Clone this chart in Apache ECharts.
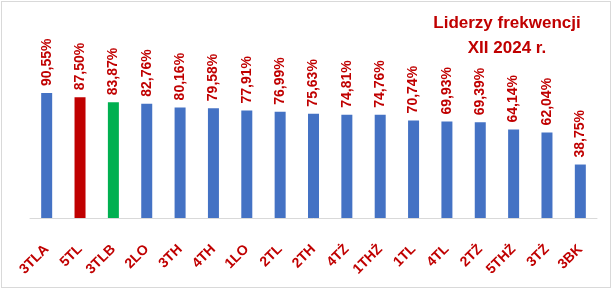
<!DOCTYPE html>
<html><head><meta charset="utf-8">
<script src="https://cdn.jsdelivr.net/npm/echarts@6/dist/echarts.min.js"></script>
<style>
html,body{margin:0;padding:0;background:#fff;}
#frame{position:absolute;left:1px;top:1px;width:608px;height:285px;border:1px solid #D9D9D9;}
#c{position:absolute;left:0;top:0;width:612px;height:289px;}
</style></head>
<body>
<div id="frame"></div>
<div id="c"></div>
<script>
const categories = ['3TLA','5TL','3TLB','2LO','3TH','4TH','1LO','2TL','2TH','4TŻ','1THŻ','1TL','4TL','2TŻ','5THŻ','3TŻ','3BK'];
const values = [90.55,87.50,83.87,82.76,80.16,79.58,77.91,76.99,75.63,74.81,74.76,70.74,69.93,69.39,64.14,62.04,38.75];
const barColors = ['#4472C4','#C00000','#00B050','#4472C4','#4472C4','#4472C4','#4472C4','#4472C4','#4472C4','#4472C4','#4472C4','#4472C4','#4472C4','#4472C4','#4472C4','#4472C4','#4472C4'];
const titleLines = ['Liderzy frekwencji','XII 2024 r.'];

const chart = echarts.init(document.getElementById('c'), null, {renderer:'canvas'});
chart.setOption({
  animation:false,
  backgroundColor:'transparent',
  graphic:[{
    type:'text', left:428, top:11,
    style:{text:titleLines.join('\n'), fill:'#C00000', font:'bold 17px "Liberation Sans", Arial', lineHeight:25, align:'center', textAlign:'center', width:158}
  }],
  grid:{left:30, right:15, top:80, bottom:71},
  xAxis:{
    type:'category', data:categories,
    axisLine:{lineStyle:{color:'#D9D9D9', width:1}},
    axisTick:{show:false},
    axisLabel:{rotate:45, margin:29, color:'#C00000', fontFamily:'Liberation Sans, Arial', fontWeight:'bold', fontSize:14, interval:0}
  },
  yAxis:{type:'value', min:0, max:100, show:false, splitLine:{show:false}},
  series:[{
    type:'bar',
    data: values.map((v,i)=>({value:v, itemStyle:{color:barColors[i]}})),
    barWidth:11,
    label:{
      show:true, position:'top', rotate:90, align:'left', verticalAlign:'middle', distance:7,
      color:'#C00000', fontFamily:'Liberation Sans, Arial', fontWeight:'bold', fontSize:14,
      formatter: p => p.value.toFixed(2).replace('.', ',') + '%'
    }
  }]
});
</script>
</body></html>
